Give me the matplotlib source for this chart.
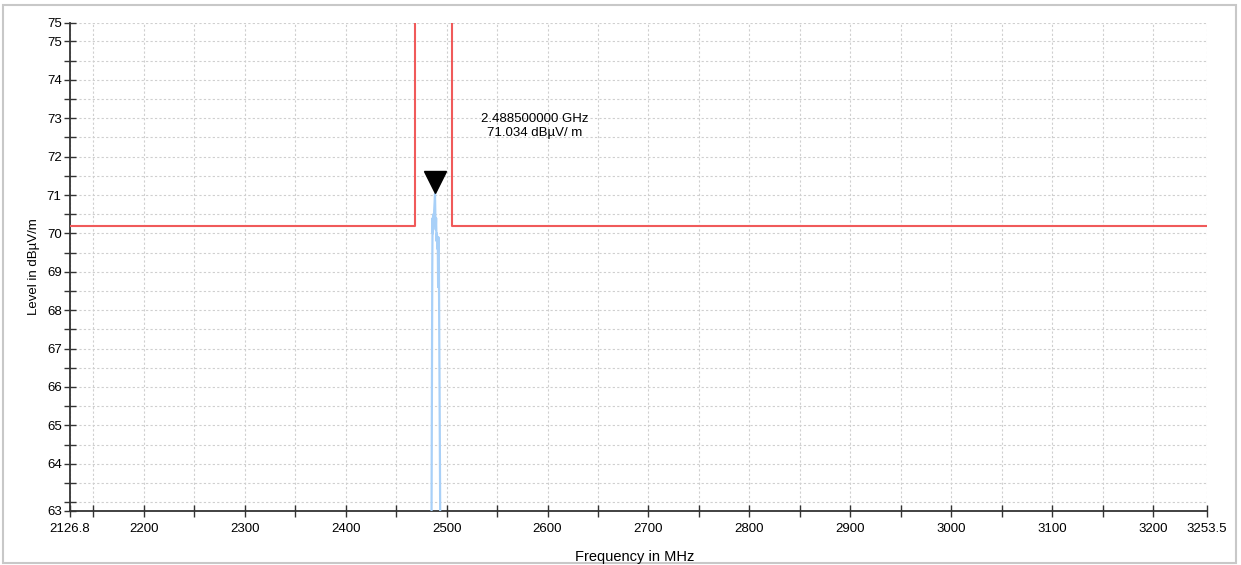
import matplotlib
matplotlib.use("Agg")
import matplotlib.pyplot as plt
from matplotlib.patches import Rectangle
import matplotlib.transforms as mtransforms

plt.rcParams["font.family"] = ["Liberation Sans", "DejaVu Sans"]

# limit line (MHz, dBuV/m)
limit_freq = [2126.8, 2469.0, 2469.0, 2505.0, 2505.0, 3253.5]
limit_level = [70.2, 70.2, 80.0, 80.0, 70.2, 70.2]

# measured trace around the carrier
trace_freq = [2484.0, 2484.8, 2485.4, 2485.8, 2486.1, 2486.4, 2486.9, 2487.3, 2487.7,
              2488.1, 2488.5, 2488.9, 2489.2, 2489.6, 2490.0, 2490.4, 2490.8, 2491.2,
              2491.6, 2491.9, 2492.3, 2492.8, 2493.5, 2494.2, 2494.8]
trace_level = [55.0, 60.5, 65.5, 69.1, 70.4, 70.0, 70.5, 70.2, 70.6,
               70.8, 71.03, 70.4, 70.1, 70.4, 69.8, 70.0, 69.6, 69.9,
               68.6, 69.9, 69.5, 67.0, 63.5, 59.0, 55.0]

peak_freq = 2488.5
peak_level = 71.034

xlim = (2126.8, 3253.5)
ylim = (62.77, 75.48)
x_major = [2200, 2300, 2400, 2500, 2600, 2700, 2800, 2900, 3000, 3100, 3200]
y_major = [64, 65, 66, 67, 68, 69, 70, 71, 72, 73, 74, 75]

fig = plt.figure(figsize=(12.41, 5.65), dpi=100)
ax = fig.add_axes([0.0564, 0.0956, 0.9162, 0.8637])
ax.set_xlim(*xlim); ax.set_ylim(*ylim)

ax.plot(limit_freq, limit_level, color="#f05a5a", lw=1.5, zorder=3)
ax.plot(trace_freq, trace_level, color="#a8d0f8", lw=1.6, zorder=4)

# peak marker, drawn just above the peak
off = mtransforms.offset_copy(ax.transData, fig=fig, x=0, y=8.5, units="points")
ax.plot([peak_freq], [peak_level], marker="v", ms=16, color="black",
        transform=off, clip_on=False, zorder=5)
ax.text(2587, 72.8, "%.9f GHz\n%.3f dBµV/ m" % (peak_freq / 1000, peak_level),
        ha="center", va="center", fontsize=9.5, linespacing=1.3)

# ticks: edge values are labelled as well
xt = [xlim[0]] + x_major + [xlim[1]]
ax.set_xticks(xt)
ax.set_xticklabels(["2126.8"] + [str(v) for v in x_major] + ["3253.5"])
ax.set_xticks([2150 + 100 * i for i in range(11)], minor=True)
yt = [ylim[0]] + y_major + [ylim[1]]
ax.set_yticks(yt)
ax.set_yticklabels(["63"] + [str(v) for v in y_major] + ["75"])
ax.set_yticks([63 + i for i in range(1)] + [63.5 + i for i in range(12)], minor=True)

ax.tick_params(which="both", direction="inout", length=8, width=1, color="#333333",
               labelsize=9.5)
ax.tick_params(axis="x", which="both", pad=5)
ax.tick_params(axis="y", which="both", pad=2)
ax.grid(which="both", color="#cfcfcf", ls=(0, (2, 2)), lw=0.8)
ax.set_axisbelow(True)
for s in ("top", "right"):
    ax.spines[s].set_visible(False)
for s in ("left", "bottom"):
    ax.spines[s].set_color("#333333"); ax.spines[s].set_linewidth(1.3)

ax.set_ylabel("Level in dBµV/m", fontsize=9.5, labelpad=5)
fig.text(0.5117, 0.014, "Frequency in MHz", ha="center", va="center", fontsize=10.5)

fig.patches.append(Rectangle((3 / 1241, 2 / 565), 1233 / 1241, 558 / 565,
                             transform=fig.transFigure, fill=False,
                             ec="#c8c8c8", lw=1.5))
fig.savefig("out.png", dpi=100)
